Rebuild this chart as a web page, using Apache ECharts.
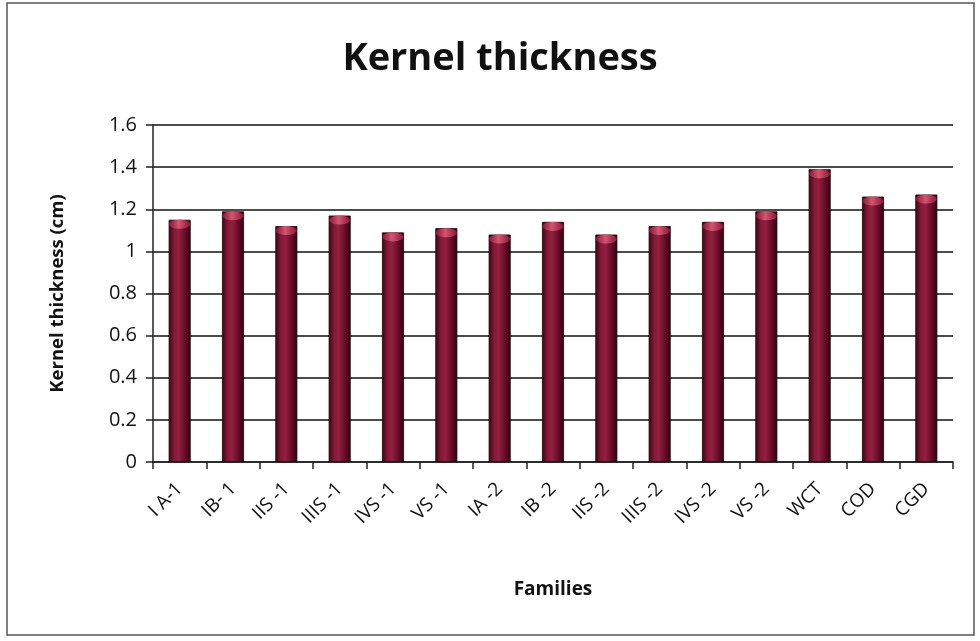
<!DOCTYPE html>
<html>
<head>
<meta charset="utf-8">
<script src="https://cdn.jsdelivr.net/npm/echarts@6/dist/echarts.min.js"></script>
<style>
  html, body { margin: 0; padding: 0; background: #fff; }
  #chart { width: 980px; height: 641px; }
</style>
</head>
<body>
<div id="chart"></div>
<script>
// Kernel thickness by family
const families = ['I A-1', 'IB- 1', 'IIS -1', 'IIIS -1', 'IVS -1', 'VS -1', 'IA -2', 'IB -2',
                  'IIS -2', 'IIIS -2', 'IVS -2', 'VS -2', 'WCT', 'COD', 'CGD'];
const thickness = [1.15, 1.19, 1.12, 1.17, 1.09, 1.11, 1.08, 1.14,
                   1.08, 1.12, 1.14, 1.19, 1.39, 1.26, 1.27];
const yTicks = [0, 0.2, 0.4, 0.6, 0.8, 1, 1.2, 1.4, 1.6];

const font = '"Open Sans", Lato, sans-serif';
const chart = echarts.init(document.getElementById('chart'));

const barFill = new echarts.graphic.LinearGradient(0, 0, 1, 0, [
  { offset: 0, color: '#3a0515' },
  { offset: 0.25, color: '#861737' },
  { offset: 0.45, color: '#922041' },
  { offset: 0.75, color: '#660b26' },
  { offset: 1, color: '#2e0410' }
]);

chart.setOption({
  animation: false,
  backgroundColor: '#ffffff',
  title: {
    text: 'Kernel thickness',
    top: 35,
    left: 495,
    textAlign: 'center',
    textStyle: { fontFamily: font, fontSize: 38, fontWeight: 'bold', color: '#111' }
  },
  graphic: [{
    type: 'rect',
    shape: { x: 7, y: 3, width: 967, height: 632 },
    style: { fill: 'none', stroke: '#555', lineWidth: 1.5 },
    silent: true
  }],
  grid: { left: 153, right: 27, top: 125, bottom: 179 },
  xAxis: {
    type: 'category',
    data: families,
    boundaryGap: true,
    name: 'Families',
    nameLocation: 'middle',
    nameGap: 118,
    nameTextStyle: { fontFamily: font, fontSize: 19, fontWeight: 'bold', color: '#111' },
    axisLine: { lineStyle: { color: '#222', width: 1.5 } },
    axisTick: { show: true, length: 7, interval: 0, lineStyle: { color: '#222', width: 1.5 } },
    axisLabel: {
      interval: 0, rotate: 45, margin: 24,
      fontFamily: font, fontSize: 19, color: '#111'
    },
    splitLine: { show: false }
  },
  yAxis: {
    type: 'value',
    min: yTicks[0],
    max: yTicks[yTicks.length - 1],
    interval: 0.2,
    name: 'Kernel thickness (cm)',
    nameLocation: 'middle',
    nameGap: 86,
    nameTextStyle: { fontFamily: font, fontSize: 18.5, fontWeight: 'bold', color: '#111' },
    axisLine: { show: true, lineStyle: { color: '#222', width: 1.5 } },
    axisTick: { show: true, length: 7, lineStyle: { color: '#222', width: 1.5 } },
    axisLabel: {
      margin: 16, fontFamily: font, fontSize: 20, color: '#111',
      formatter: v => String(Math.round(v * 10) / 10)
    },
    splitLine: { show: true, lineStyle: { color: '#111', width: 1.5 } }
  },
  series: [
    {
      type: 'bar',
      data: thickness,
      barWidth: 22,
      itemStyle: { color: barFill, borderColor: '#1a0208', borderWidth: 0.8 },
      z: 3
    },
    {
      // elliptical cap on each cylinder
      type: 'pictorialBar',
      data: thickness,
      symbol: 'circle',
      symbolSize: [21, 9],
      symbolPosition: 'end',
      symbolOffset: [0, 0],
      itemStyle: {
        color: new echarts.graphic.LinearGradient(0, 0, 1, 0, [
          { offset: 0, color: '#8a1636' },
          { offset: 0.45, color: '#d2566f' },
          { offset: 1, color: '#8a1636' }
        ])
      },
      z: 4
    }
  ]
});
</script>
</body>
</html>
